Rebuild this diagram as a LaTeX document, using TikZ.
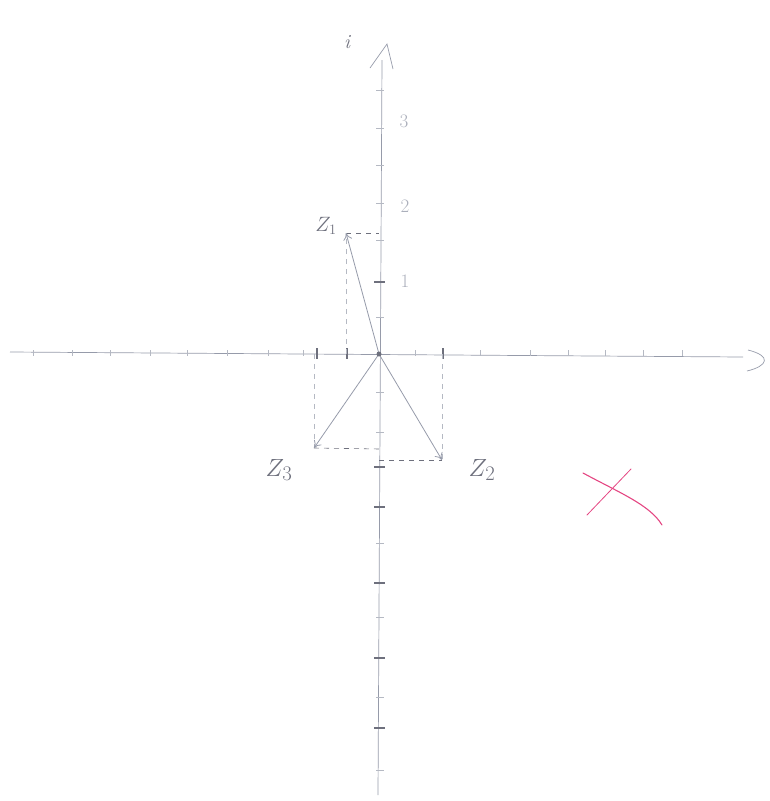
\documentclass[tikz,border=0pt]{standalone}
\usetikzlibrary{arrows.meta}
\definecolor{pencil}{RGB}{150,155,170}
\definecolor{dark}{RGB}{110,112,125}
\definecolor{redpen}{RGB}{228,70,130}
\tikzset{
  axis/.style={draw=pencil, line width=0.7pt},
  tick/.style={draw=pencil!70, line width=0.6pt},
  boldtick/.style={draw=dark, line width=1.3pt},
  vec/.style={draw=pencil, line width=0.8pt, -{To[length=7pt,width=9pt]}},
  guide/.style={draw=dark, line width=0.6pt, dash pattern=on 5pt off 5pt},
  lbl/.style={text=dark, inner sep=0pt},
  num/.style={text=pencil!80, inner sep=0pt, font=\fontsize{19}{19}\selectfont},
  cross/.style={draw=redpen, line width=1.1pt, line cap=round}
}
\begin{document}
\begin{tikzpicture}[x=1pt,y=-1pt]
\useasboundingbox (0,0) rectangle (770,801);
% coordinates
\coordinate (O) at (379,354);
\coordinate (xl) at (10,352);
\coordinate (xr) at (743,357);
\coordinate (yb) at (378,795);
\coordinate (yt) at (382,60);
\coordinate (Z1) at (346,233);
\coordinate (Z2) at (442,460);
\coordinate (Z3) at (314,448);
% axes
\draw[axis] (xl) -- (xr);
\draw[axis] (yb) -- (yt);
\draw[axis] (748,350) .. controls (772,356) and (768,366) .. (747,371);
\draw[axis] (370,68) -- (387,44) -- (393,69);
% x ticks
\foreach \t in {33,72,110,150,187,227,268,303,415,480,530,568,605,643,682}
  \draw[tick] (\t,350) -- (\t,356);
\foreach \t in {317,347,443}
  \draw[boldtick] (\t,348) -- (\t,359);
% y ticks
\foreach \t in {90,128,165,203,240,317,392,432,543,617,697,770}
  \draw[tick] (376,\t) -- (384,\t);
\foreach \t in {282,467,507,583,658,728}
  \draw[boldtick] (374,\t) -- (385,\t);
% numbers
\node[num] (n1) at (405,281) {1};
\node[num] (n2) at (405,206) {2};
\node[num] (n3) at (404,121) {3};
\node[lbl, font=\fontsize{20}{20}\selectfont\itshape] (iL) at (347,42) {i};
% guides
\coordinate (Z1y) at (379,233);
\coordinate (Z1x) at (346,354);
\coordinate (Z2y) at (379,460);
\coordinate (Z2x) at (442,354);
\coordinate (Z3y) at (380,449);
\coordinate (Z3x) at (314,354);
\draw[guide] (Z1) -- (Z1y);
\draw[guide, draw=pencil!70] (Z1x) -- (Z1);
\draw[guide] (Z2y) -- (Z2);
\draw[guide, draw=pencil!70] (Z2x) -- (Z2);
\draw[guide] (Z3) -- (Z3y);
\draw[guide, draw=pencil!70] (Z3x) -- (Z3);
% vectors
\draw[vec] (O) -- (Z1);
\draw[vec] (O) -- (Z2);
\draw[vec] (O) -- (Z3);
\fill[dark] (O) circle (2.5pt);
% labels
\node[lbl, font=\fontsize{20}{20}\selectfont] (L1) at (326,226) {$Z_{1}$};
\node[lbl, font=\fontsize{30}{30}\selectfont] (L2) at (482,470) {$Z_{2}$};
\node[lbl, font=\fontsize{30}{30}\selectfont] (L3) at (279,470) {$Z_{3}$};
% red cross
\coordinate (c1a) at (583,473);
\coordinate (c1b) at (662,525);
\coordinate (c2a) at (587,515);
\coordinate (c2b) at (631,469);
\draw[cross] (c1a) .. controls (620,493) and (650,505) .. (c1b);
\draw[cross, line width=0.8pt] (c2a) -- (c2b);
\end{tikzpicture}
\end{document}
